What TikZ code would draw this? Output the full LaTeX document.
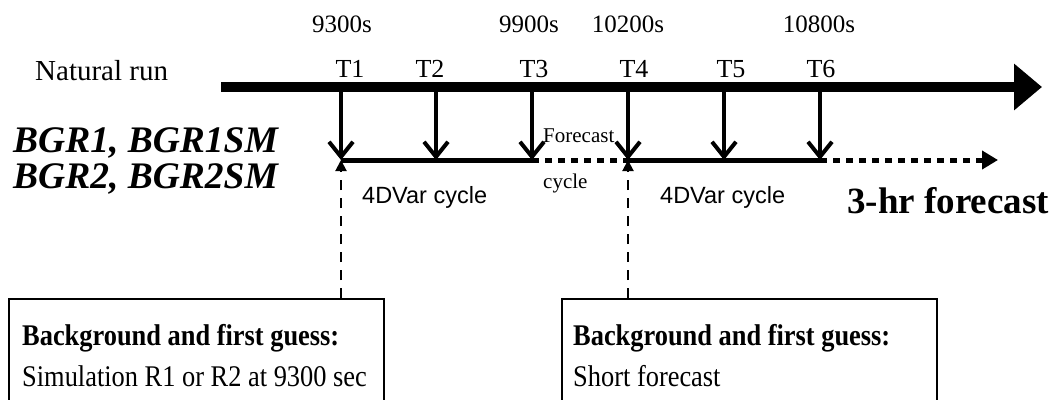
\documentclass[tikz,border=0pt]{standalone}
\usepackage{fontspec}
\setmainfont{Liberation Serif}
\newfontfamily\arialfont{Liberation Sans}
\usetikzlibrary{arrows.meta}

\begin{document}
\begin{tikzpicture}[x=1pt,y=-1pt,
  txt/.style={inner sep=0pt, anchor=base},
  lbl/.style={txt, font=\fontsize{25}{30}\selectfont},
  tlbl/.style={txt, font=\fontsize{26}{30}\selectfont},
  small/.style={txt, anchor=base west, font=\fontsize{21}{24}\selectfont},
  sans/.style={txt, anchor=base west, font=\arialfont\fontsize{23.5}{26}\selectfont},
  expname/.style={txt, anchor=base west, font=\bfseries\itshape\fontsize{37.5}{42}\selectfont},
  boxtxt/.style={txt, anchor=base west, font=\fontsize{30}{34}\selectfont},
  infobox/.style={draw, line width=1.5pt, minimum width=375pt, minimum height=140pt,
    anchor=north west, inner sep=0pt},
  timebar/.style={line width=9.5pt, -{Triangle[length=28pt,width=45pt]}},
  obsarrow/.style={line width=4pt, -{Straight Barb[length=15pt,width=24pt,line width=4pt]}},
  cycleline/.style={line width=5pt},
  fcline/.style={line width=5pt, dash pattern=on 7pt off 6pt},
  bgarrow/.style={line width=2pt, dash pattern=on 10pt off 8pt, -{Triangle[length=11pt,width=11pt]}}
]
\useasboundingbox (0,0) rectangle (1057,399);
\clip (0,0) rectangle (1057,399);

% observation times on the natural run and in the assimilation window
\foreach \i/\x in {1/341,2/436,3/532,4/628,5/724,6/820}{
  \coordinate (b\i) at (\x,87);
  \coordinate (c\i) at (\x,160);
}
\coordinate (barL) at (221,87);
\coordinate (barR) at (1042,87);
\coordinate (fcEnd) at (998,160);

% time stamps
\node[lbl] (s1) at (342,32) {9300s};
\node[lbl] (s3) at (529,32) {9900s};
\node[lbl] (s4) at (628,32) {10200s};
\node[lbl] (s6) at (819,32) {10800s};

% natural run labels
\node[txt, anchor=base west, font=\fontsize{29}{32}\selectfont] (nat) at (35,80) {Natural run};
\node[tlbl] (t1) at (350,77) {T1};
\node[tlbl] (t2) at (430,77) {T2};
\node[tlbl] (t3) at (534,77) {T3};
\node[tlbl] (t4) at (634,77) {T4};
\node[tlbl] (t5) at (731,77) {T5};
\node[tlbl] (t6) at (821,77) {T6};

% experiment names
\node[expname] (e1) at (13,152) {BGR1, BGR1SM};
\node[expname] (e2) at (13,188) {BGR2, BGR2SM};

% background boxes
\node[infobox] (box1) at (8,298) {};
\node[infobox] (box2) at (561,298) {};
\node[boxtxt] (h1) at (22,345) {\scalebox{0.88}[1]{\bfseries Background and first guess:}};
\node[boxtxt] (d1) at (22,386) {\scalebox{0.88}[1]{Simulation R1 or R2 at 9300 sec}};
\node[boxtxt] (h2) at (573,345) {\scalebox{0.88}[1]{\bfseries Background and first guess:}};
\node[boxtxt] (d2) at (573,386) {\scalebox{0.88}[1]{Short forecast}};

% background arrows up to the cycle starts
\draw[bgarrow] (box1.north -| c1) -- (c1);
\draw[bgarrow] (box2.north -| c4) -- (c4);

% observation arrows
\foreach \i in {1,...,6}{
  \draw[obsarrow] (b\i) -- (c\i);
}

% assimilation and forecast cycles
\draw[cycleline] (c1) -- (c3);
\draw[fcline] (c3) -- (c4);
\draw[cycleline] (c4) -- (c6);
\draw[fcline, -{Triangle[length=16pt,width=18pt]}] (c6) -- (fcEnd);

% natural run time line
\draw[timebar] (barL) -- (barR);

% cycle labels
\node[sans] (v1) at (362,203) {4DVar cycle};
\node[sans] (v2) at (660,203) {4DVar cycle};
\node[small] (f1) at (543,142) {Forecast};
\node[small] (f2) at (543,188) {cycle};
\node[txt, anchor=base west, font=\bfseries\fontsize{37}{40}\selectfont] (f3) at (847,213) {3-hr forecast};
\end{tikzpicture}
\end{document}
